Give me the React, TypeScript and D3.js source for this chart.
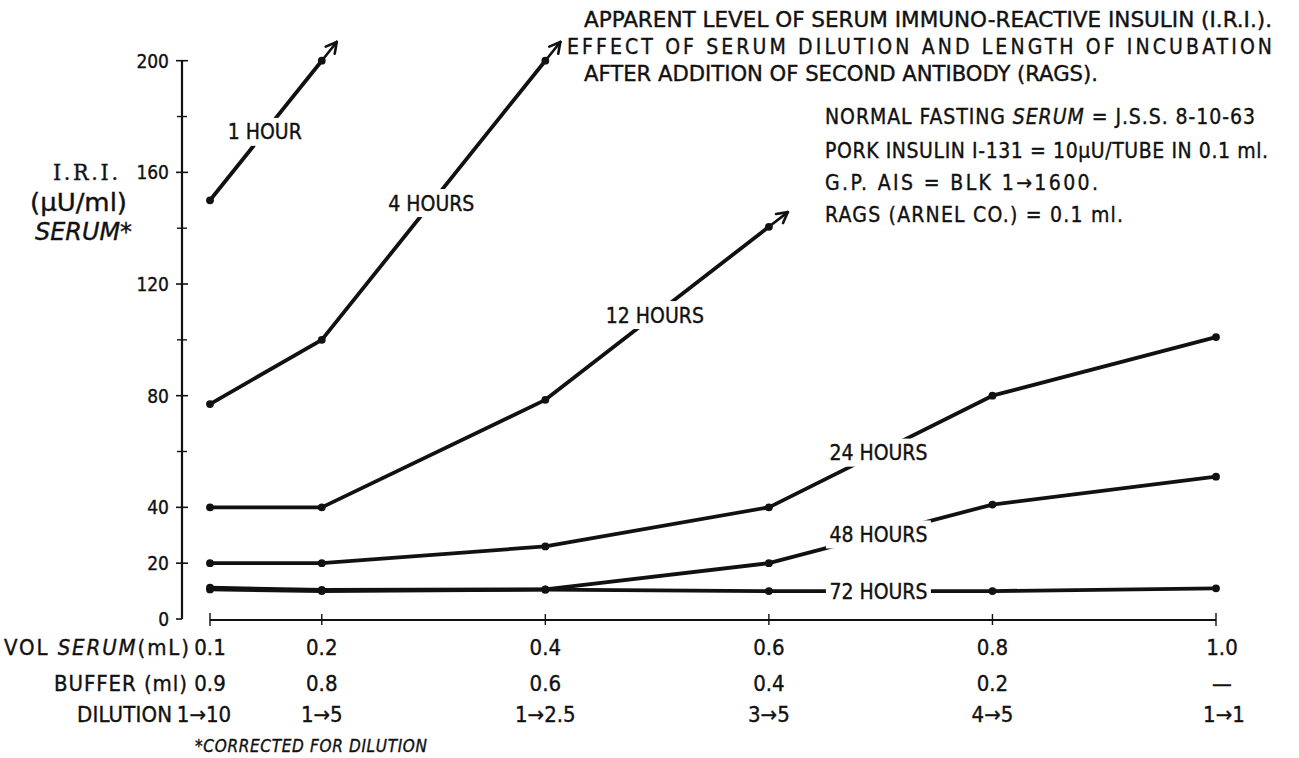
import React from "react";
import * as d3 from "d3";

// ---------- data ----------
const volumes = [0.1, 0.2, 0.4, 0.6, 0.8, 1.0];
const volumeLabels = ["0.1", "0.2", "0.4", "0.6", "0.8", "1.0"];
const bufferLabels = ["0.9", "0.8", "0.6", "0.4", "0.2", "—"];
const dilutionLabels = ["1→10", "1→5", "1→2.5", "3→5", "4→5", "1→1"];
const yTicksLabeled = [0, 20, 40, 80, 120, 160, 200];
const yTicksMinor = [60, 100, 140, 180];

const seriesNames = ["1 HOUR", "4 HOURS", "12 HOURS", "24 HOURS", "48 HOURS", "72 HOURS"];
const hour1 = [150, 200];
const hour4 = [77, 100, 200];
const hour12 = [40, 40, 78.5, 140.5];
const hour24 = [20, 20, 26, 40, 80, 101];
const hour48 = [11.2, 10.4, 10.6, 20, 41, 51];
const hour72 = [10.6, 10, 10.5, 10, 10, 11];
const seriesValues = [hour1, hour4, hour12, hour24, hour48, hour72];
const labelSegment = [0, 1, 2, 3, 3, 3];
const continuesUp = [true, true, true, false, false, false];

const titleLines = [
  "APPARENT LEVEL OF SERUM IMMUNO-REACTIVE INSULIN (I.R.I.).",
  "EFFECT OF SERUM DILUTION AND LENGTH OF INCUBATION",
  "AFTER ADDITION OF SECOND ANTIBODY (RAGS).",
];

// ---------- layout ----------
const W = 1299;
const H = 758;
const FONT = "'DejaVu Sans Condensed', 'DejaVu Sans', 'Liberation Sans Narrow', sans-serif";
const labelWidths = [68, 88, 93, 97, 97, 97];

export default function App() {
  const x = d3.scaleLinear().domain([0.1, 1.0]).range([210, 1216]);
  const y = d3.scaleLinear().domain([0, 200]).range([619, 60.7]);
  const axisX = 182;
  const line = d3
    .line<number>()
    .x((_, i) => x(volumes[i]))
    .y((d) => y(d));

  const txt = {
    fontFamily: FONT,
    fontStretch: "condensed" as const,
    fill: "#111",
    stroke: "#111",
    strokeWidth: 0.35,
  };

  return (
    <svg
      width={W}
      height={H}
      style={{ position: "absolute", left: 0, top: 0, background: "#fff" }}
    >
      <rect x={0} y={0} width={W} height={H} fill="#fff" />

      {/* Title */}
      <g style={txt} fontSize={21}>
        <text x={584} y={27} textLength={688} lengthAdjust="spacingAndGlyphs">{titleLines[0]}</text>
        <text x={567} y={54} textLength={705} lengthAdjust="spacing">{titleLines[1]}</text>
        <text x={584} y={81} textLength={514} lengthAdjust="spacingAndGlyphs">{titleLines[2]}</text>
      </g>

      {/* Notes */}
      <g style={txt} fontSize={21}>
        <text x={825} y={124} textLength={430} lengthAdjust="spacing">
          NORMAL FASTING <tspan fontStyle="italic">SERUM</tspan> = J.S.S.  8-10-63
        </text>
        <text x={825} y={158} textLength={443} lengthAdjust="spacing">PORK INSULIN I-131 = 10μU/TUBE IN 0.1 ml.</text>
        <text x={825} y={190} textLength={273} lengthAdjust="spacing">G.P. AIS = BLK 1→1600.</text>
        <text x={825} y={222} textLength={298} lengthAdjust="spacing">RAGS (ARNEL CO.) = 0.1 ml.</text>
      </g>

      {/* Y axis label */}
      <g style={txt} fontSize={24}>
        <text x={53} y={180} textLength={65} lengthAdjust="spacing" fontFamily="'DejaVu Serif', serif" fontSize={23}>I.R.I.</text>
        <text x={30} y={211} textLength={97} lengthAdjust="spacingAndGlyphs">(μU/ml)</text>
        <text x={35} y={240} textLength={97} lengthAdjust="spacingAndGlyphs" fontStyle="italic">SERUM*</text>
      </g>

      {/* Y axis */}
      <line x1={axisX} x2={axisX} y1={y(200)} y2={y(0)} stroke="#111" strokeWidth={2.2} />
      {yTicksLabeled.map((t) => (
        <g key={"yt" + t}>
          <line
            x1={axisX - 6}
            x2={t === 0 ? axisX : axisX + 6}
            y1={y(t)}
            y2={y(t)}
            stroke="#111"
            strokeWidth={1.6}
          />
          <text
            x={169}
            y={y(t)}
            dy="0.36em"
            textAnchor="end"
            fontSize={19}
            style={txt}
          >
            {t}
          </text>
        </g>
      ))}
      {yTicksMinor.map((t) => (
        <line
          key={"ym" + t}
          x1={axisX - 5}
          x2={axisX + 5}
          y1={y(t)}
          y2={y(t)}
          stroke="#111"
          strokeWidth={1.4}
        />
      ))}

      {/* X axis */}
      <line x1={x(0.1)} x2={x(1.0)} y1={y(0) + 1} y2={y(0) + 1} stroke="#111" strokeWidth={1.8} />
      {volumes.map((v, i) => {
        const end = i === 0 || i === volumes.length - 1;
        return (
          <line
            key={"xt" + v}
            x1={x(v)}
            x2={x(v)}
            y1={y(0) + (end ? -6 : -5)}
            y2={y(0) + (end ? 7 : 6)}
            stroke="#111"
            strokeWidth={1.4}
          />
        );
      })}

      {/* Table rows under the x axis */}
      <g style={txt} fontSize={22}>
        <text x={4} y={655} textLength={185} lengthAdjust="spacing">
          VOL <tspan fontStyle="italic">SERUM</tspan>(mL)
        </text>
        <text x={54} y={691} textLength={133} lengthAdjust="spacing">BUFFER (ml)</text>
        <text x={77} y={722} textLength={95} lengthAdjust="spacing">DILUTION</text>
        {volumes.map((v, i) => (
          <g key={"row" + v} textAnchor="middle">
            <text x={x(v) + (i === 5 ? 6 : 0)} y={655}>{volumeLabels[i]}</text>
            <text x={x(v) + (i === 5 ? 6 : 0)} y={691}>{bufferLabels[i]}</text>
            <text x={x(v) + (i === 0 ? -6 : i === 5 ? 8 : 0)} y={722}>{dilutionLabels[i]}</text>
          </g>
        ))}
        <text x={195} y={752} fontSize={17} fontStyle="italic" textLength={232} lengthAdjust="spacing">
          *CORRECTED FOR DILUTION
        </text>
      </g>

      {/* Series */}
      {seriesValues.map((vals, s) => {
        const pts = vals.map((v, i) => [x(volumes[i]), y(v)] as [number, number]);
        let arrow = null;
        if (continuesUp[s]) {
          const p1 = pts[pts.length - 2];
          const p2 = pts[pts.length - 1];
          const dx = p2[0] - p1[0];
          const dy = p2[1] - p1[1];
          const len = Math.hypot(dx, dy);
          const ux = dx / len;
          const uy = dy / len;
          const tip = [p2[0] + ux * 24, p2[1] + uy * 24];
          const ang = Math.atan2(uy, ux);
          const hl = 12;
          const a1 = ang + Math.PI - 0.5;
          const a2 = ang + Math.PI + 0.5;
          arrow = (
            <g stroke="#111" strokeWidth={2.6} strokeLinecap="round" fill="none">
              <line x1={p2[0]} y1={p2[1]} x2={tip[0]} y2={tip[1]} />
              <line x1={tip[0]} y1={tip[1]} x2={tip[0] + Math.cos(a1) * hl} y2={tip[1] + Math.sin(a1) * hl} />
              <line x1={tip[0]} y1={tip[1]} x2={tip[0] + Math.cos(a2) * hl} y2={tip[1] + Math.sin(a2) * hl} />
            </g>
          );
        }
        return (
          <g key={"s" + s}>
            <path d={line(vals) || ""} fill="none" stroke="#111" strokeWidth={3.8} strokeLinejoin="round" />
            {pts.map((p, i) => (
              <circle key={i} cx={p[0]} cy={p[1]} r={3.9} fill="#111" />
            ))}
            {arrow}
          </g>
        );
      })}

      {/* Series labels (break the line) */}
      {seriesValues.map((vals, s) => {
        const k = labelSegment[s];
        const t = 0.49;
        const v = volumes[k] + (volumes[k + 1] - volumes[k]) * t;
        const val = vals[k] + (vals[k + 1] - vals[k]) * t;
        const cx = x(v);
        const cy = y(val);
        const w = labelWidths[s] + 8;
        return (
          <g key={"lab" + s}>
            <rect x={cx - w / 2} y={cy - 14} width={w} height={28} fill="#fff" />
            <text
              x={cx}
              y={cy}
              dy="0.36em"
              textAnchor="middle"
              fontSize={21}
              style={txt}
            >
              {seriesNames[s]}
            </text>
          </g>
        );
      })}
    </svg>
  );
}
